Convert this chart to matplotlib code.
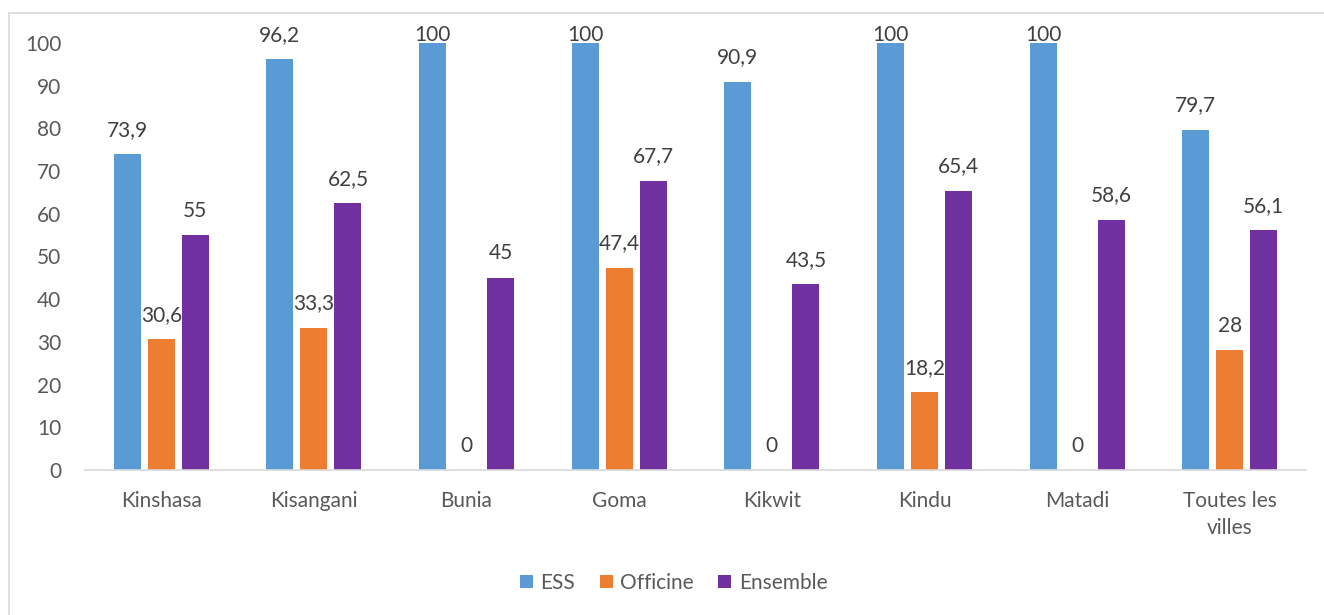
import matplotlib
matplotlib.use("Agg")
import matplotlib.pyplot as plt
from matplotlib.lines import Line2D
import numpy as np

categories = ["Kinshasa", "Kisangani", "Bunia", "Goma", "Kikwit", "Kindu", "Matadi", "Toutes les\nvilles"]
series_names = ["ESS", "Officine", "Ensemble"]
ess = [73.9, 96.2, 100, 100, 90.9, 100, 100, 79.7]
officine = [30.6, 33.3, 0, 47.4, 0, 18.2, 0, 28]
ensemble = [55, 62.5, 45, 67.7, 43.5, 65.4, 58.6, 56.1]
yticks = list(range(0, 101, 10))

colors = ["#5B9BD5", "#ED7D31", "#7030A0"]
plt.rcParams['font.family'] = ['Lato', 'DejaVu Sans']
FS = 15

W, H = 1324, 615
fig = plt.figure(figsize=(W / 100, H / 100), dpi=100)
ax = fig.add_axes([85 / W, 1 - 470 / H, (1306 - 85) / W, (470 - 43) / H])

x = np.arange(len(categories))
width = 0.177
offset = 0.223
for i, (vals, name) in enumerate(zip([ess, officine, ensemble], series_names)):
    pos = x + (i - 1) * offset
    ax.bar(pos, vals, width, color=colors[i], label=name, zorder=2)
    for px, v in zip(pos, vals):
        ly = min(v + 4.3, 100.45)
        txt = f"{v:g}".replace(".", ",")
        ax.text(px, ly, txt, ha="center", va="baseline", fontsize=FS,
                color="#404040", clip_on=False)

ax.set_xlim(-0.5, len(categories) - 0.5)
ax.set_ylim(0, 100)
ax.set_yticks(yticks)
ax.set_xticks(x)
ax.set_xticklabels(categories, linespacing=1.45)
ax.tick_params(axis="both", length=0, labelsize=FS, colors="#595959")
ax.tick_params(axis="y", pad=17)
ax.tick_params(axis="x", pad=15)
for s in ["top", "right", "left"]:
    ax.spines[s].set_visible(False)
ax.spines["bottom"].set_color("#D9D9D9")
ax.spines["bottom"].set_linewidth(1.2)

leg = fig.legend(loc="center", bbox_to_anchor=(673.5 / W, 1 - 583 / H), ncol=3,
                 frameon=False, fontsize=FS, handlelength=0.62, handleheight=0.62,
                 handletextpad=0.35, columnspacing=1.2)
for t in leg.get_texts():
    t.set_color("#595959")

# outer chart border (partially visible)
fig.add_artist(Line2D([9 / W, 1], [1 - 13 / H, 1 - 13 / H], color="#D9D9D9", lw=1.2, transform=fig.transFigure))
fig.add_artist(Line2D([9 / W, 9 / W], [0, 1 - 13 / H], color="#D9D9D9", lw=1.2, transform=fig.transFigure))

fig.savefig("out.png", dpi=100, facecolor="white")
